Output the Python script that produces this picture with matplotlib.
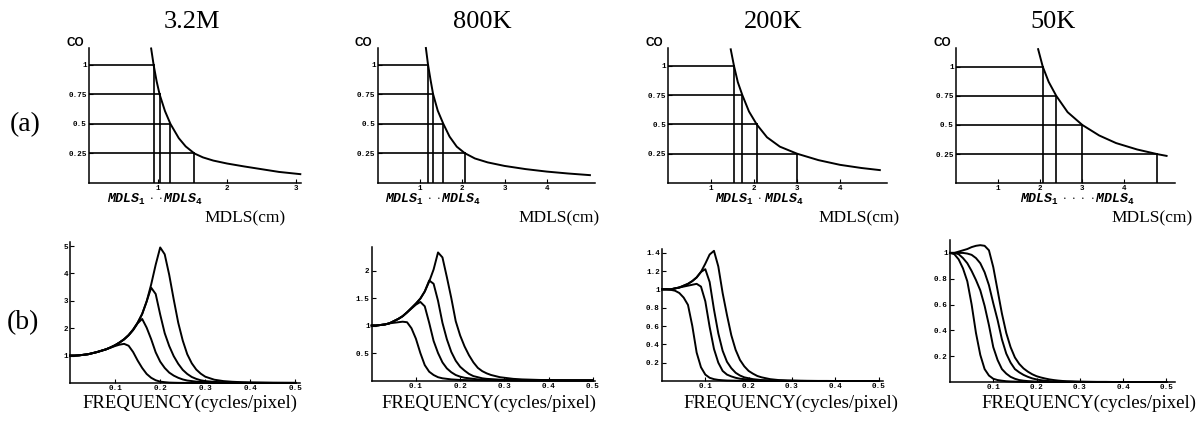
import matplotlib
matplotlib.use("Agg")
import matplotlib.pyplot as plt

plt.rcParams['font.family'] = 'Liberation Mono'
plt.rcParams['mathtext.fontset'] = 'custom'
plt.rcParams['mathtext.it'] = 'Liberation Mono:bold:italic'
plt.rcParams['mathtext.rm'] = 'Liberation Mono:bold'
plt.rcParams['mathtext.bf'] = 'Liberation Mono:bold'

# ---------------- data ----------------
TITLES = ['3.2M', '800K', '200K', '50K']
CO_LEVELS = [1.0, 0.75, 0.5, 0.25]

# (a) CO vs MDLS curves
MDLS_X_32M = [0.90, 0.936, 0.98, 1.023, 1.10, 1.18, 1.30, 1.40, 1.527, 1.65, 1.80, 2.0, 2.25, 2.5, 2.75, 3.06]
CO_Y_32M = [1.14, 1.0, 0.86, 0.75, 0.61, 0.50, 0.38, 0.31, 0.25, 0.217, 0.19, 0.165, 0.14, 0.117, 0.094, 0.075]
MDLS_X_800K = [1.14, 1.19, 1.25, 1.31, 1.42, 1.55, 1.70, 1.87, 2.06, 2.3, 2.6, 3.0, 3.5, 4.0, 4.5, 5.02]
CO_Y_800K = [1.14, 1.0, 0.87, 0.75, 0.61, 0.50, 0.39, 0.305, 0.25, 0.205, 0.172, 0.142, 0.115, 0.094, 0.078, 0.064]
MDLS_X_200K = [1.455, 1.53, 1.62, 1.725, 1.88, 2.06, 2.3, 2.6, 3.0, 3.5, 4.0, 4.5, 4.93]
CO_Y_200K = [1.14, 1.0, 0.86, 0.75, 0.61, 0.50, 0.39, 0.31, 0.25, 0.195, 0.155, 0.128, 0.11]
MDLS_X_50K = [1.95, 2.06, 2.2, 2.38, 2.65, 3.0, 3.4, 3.8, 4.3, 4.78, 5.0]
CO_Y_50K = [1.15, 1.0, 0.87, 0.75, 0.61, 0.50, 0.41, 0.345, 0.29, 0.25, 0.235]

# MDLS_1 .. MDLS_4 (where CO = 1, 0.75, 0.5, 0.25)
MDLS_32M = [0.936, 1.023, 1.18, 1.527]
MDLS_800K = [1.19, 1.31, 1.55, 2.06]
MDLS_200K = [1.53, 1.725, 2.06, 3.0]
MDLS_50K = [2.06, 2.38, 3.0, 4.78]

A_XTICKS = [[1, 2, 3], [1, 2, 3, 4], [1, 2, 3, 4], [1, 2, 3, 4]]
A_YTICKS = [0.25, 0.5, 0.75, 1.0]
A_YTICKLABELS = ['0.25', '0.5', '0.75', '1']

# (b) frequency responses
FREQ = [0.00, 0.01, 0.02, 0.03, 0.04, 0.05, 0.06, 0.07, 0.08, 0.09,
        0.10, 0.11, 0.12, 0.13, 0.14, 0.15, 0.16, 0.17, 0.18, 0.19,
        0.20, 0.21, 0.22, 0.23, 0.24, 0.25, 0.26, 0.27, 0.28, 0.29,
        0.30, 0.32, 0.34, 0.36, 0.38, 0.40, 0.45, 0.50]

R32M_1 = [1.00, 1.00, 1.01, 1.03, 1.05, 1.09, 1.13, 1.18, 1.23, 1.29,
          1.35, 1.40, 1.43, 1.36, 1.13, 0.82, 0.55, 0.33, 0.19, 0.10,
          0.05, 0.03, 0.015, 0.01, 0.006, 0.004, 0.003, 0.002, 0.002, 0.001,
          0.001, 0, 0, 0, 0, 0, 0, 0]
R32M_2 = [1.00, 1.00, 1.01, 1.03, 1.05, 1.09, 1.13, 1.18, 1.23, 1.30,
          1.38, 1.48, 1.59, 1.74, 1.93, 2.18, 2.34, 2.02, 1.60, 1.12,
          0.78, 0.55, 0.38, 0.27, 0.19, 0.13, 0.09, 0.07, 0.05, 0.04,
          0.03, 0.02, 0.012, 0.008, 0.005, 0.004, 0.002, 0.001]
R32M_3 = [1.00, 1.00, 1.01, 1.03, 1.05, 1.09, 1.13, 1.18, 1.23, 1.30,
          1.38, 1.48, 1.60, 1.75, 1.95, 2.20, 2.52, 2.98, 3.48, 3.25,
          2.50, 1.82, 1.35, 0.98, 0.70, 0.48, 0.33, 0.22, 0.15, 0.10,
          0.07, 0.04, 0.025, 0.015, 0.01, 0.008, 0.004, 0.002]
R32M_4 = [1.00, 1.00, 1.01, 1.03, 1.05, 1.09, 1.13, 1.18, 1.23, 1.30,
          1.38, 1.48, 1.60, 1.75, 1.95, 2.20, 2.52, 2.98, 3.60, 4.32,
          4.95, 4.70, 3.95, 3.05, 2.20, 1.55, 1.05, 0.72, 0.49, 0.34,
          0.23, 0.12, 0.07, 0.045, 0.03, 0.02, 0.01, 0.008]

R800K_1 = [1.00, 1.00, 1.01, 1.02, 1.04, 1.05, 1.06, 1.07, 1.06, 0.95,
           0.76, 0.50, 0.28, 0.16, 0.10, 0.06, 0.04, 0.03, 0.02, 0.015,
           0.01, 0.008, 0.006, 0.005, 0.004, 0.003, 0.002, 0.002, 0.001, 0.001,
           0.001, 0, 0, 0, 0, 0, 0, 0]
R800K_2 = [1.00, 1.00, 1.01, 1.02, 1.04, 1.08, 1.12, 1.17, 1.24, 1.31,
           1.38, 1.43, 1.35, 1.05, 0.72, 0.50, 0.33, 0.22, 0.15, 0.10,
           0.07, 0.05, 0.04, 0.03, 0.02, 0.015, 0.012, 0.01, 0.008, 0.006,
           0.005, 0.003, 0.002, 0.001, 0.001, 0, 0, 0]
R800K_3 = [1.00, 1.00, 1.01, 1.02, 1.04, 1.08, 1.12, 1.17, 1.24, 1.32,
           1.40, 1.49, 1.62, 1.82, 1.76, 1.45, 1.05, 0.75, 0.52, 0.36,
           0.25, 0.18, 0.12, 0.08, 0.06, 0.04, 0.03, 0.025, 0.02, 0.015,
           0.01, 0.007, 0.005, 0.003, 0.002, 0.002, 0.001, 0]
R800K_4 = [1.00, 1.00, 1.01, 1.02, 1.04, 1.08, 1.12, 1.17, 1.24, 1.32,
           1.40, 1.49, 1.62, 1.80, 2.02, 2.33, 2.24, 1.88, 1.50, 1.08,
           0.82, 0.62, 0.46, 0.33, 0.23, 0.17, 0.13, 0.10, 0.08, 0.06,
           0.05, 0.03, 0.02, 0.015, 0.01, 0.008, 0.005, 0.004]

R200K_1 = [1.00, 1.00, 0.995, 0.985, 0.96, 0.91, 0.83, 0.60, 0.31, 0.15,
           0.07, 0.035, 0.02, 0.012, 0.008, 0.005, 0.004, 0.003, 0.002, 0.002,
           0.001, 0, 0, 0, 0, 0, 0, 0, 0, 0,
           0, 0, 0, 0, 0, 0, 0, 0]
R200K_2 = [1.00, 1.00, 1.00, 1.01, 1.02, 1.03, 1.04, 1.05, 1.06, 1.03,
           0.87, 0.59, 0.35, 0.20, 0.11, 0.07, 0.05, 0.035, 0.025, 0.02,
           0.015, 0.01, 0.008, 0.006, 0.005, 0.004, 0.003, 0.002, 0.002, 0.001,
           0.001, 0, 0, 0, 0, 0, 0, 0]
R200K_3 = [1.00, 1.00, 1.00, 1.01, 1.02, 1.04, 1.06, 1.09, 1.13, 1.19,
           1.22, 1.08, 0.78, 0.52, 0.33, 0.21, 0.14, 0.09, 0.06, 0.04,
           0.03, 0.02, 0.015, 0.01, 0.008, 0.006, 0.005, 0.004, 0.003, 0.002,
           0.002, 0.001, 0, 0, 0, 0, 0, 0]
R200K_4 = [1.00, 1.00, 1.00, 1.01, 1.02, 1.04, 1.06, 1.09, 1.13, 1.19,
           1.28, 1.38, 1.42, 1.25, 0.96, 0.72, 0.50, 0.34, 0.23, 0.16,
           0.11, 0.08, 0.055, 0.04, 0.03, 0.02, 0.015, 0.01, 0.008, 0.006,
           0.005, 0.003, 0.002, 0.001, 0.001, 0, 0, 0]

R50K_1 = [1.00, 0.99, 0.95, 0.88, 0.78, 0.60, 0.38, 0.21, 0.10, 0.05,
          0.025, 0.015, 0.01, 0.006, 0.004, 0.003, 0.002, 0.001, 0, 0,
          0, 0, 0, 0, 0, 0, 0, 0, 0, 0,
          0, 0, 0, 0, 0, 0, 0, 0]
R50K_2 = [1.00, 1.00, 0.99, 0.96, 0.92, 0.86, 0.79, 0.71, 0.59, 0.44,
          0.27, 0.17, 0.10, 0.065, 0.04, 0.025, 0.015, 0.01, 0.007, 0.005,
          0.003, 0.002, 0.002, 0.001, 0, 0, 0, 0, 0, 0,
          0, 0, 0, 0, 0, 0, 0, 0]
R50K_3 = [1.00, 1.00, 1.00, 1.00, 0.995, 0.985, 0.96, 0.92, 0.85, 0.75,
          0.61, 0.48, 0.33, 0.22, 0.15, 0.10, 0.075, 0.055, 0.04, 0.028,
          0.02, 0.014, 0.01, 0.007, 0.005, 0.004, 0.003, 0.002, 0.002, 0.001,
          0.001, 0, 0, 0, 0, 0, 0, 0]
R50K_4 = [1.00, 1.00, 1.01, 1.02, 1.03, 1.045, 1.055, 1.06, 1.055, 1.02,
          0.89, 0.71, 0.53, 0.38, 0.27, 0.19, 0.14, 0.105, 0.08, 0.06,
          0.045, 0.035, 0.027, 0.02, 0.015, 0.011, 0.008, 0.006, 0.005, 0.004,
          0.003, 0.002, 0.001, 0.001, 0, 0, 0, 0]

B_XTICKS = [0.1, 0.2, 0.3, 0.4, 0.5]
B_YTICKS = [[1, 2, 3, 4, 5], [0.5, 1, 1.5, 2],
            [0.2, 0.4, 0.6, 0.8, 1, 1.2, 1.4], [0.2, 0.4, 0.6, 0.8, 1]]
B_YTICKLABELS = [['1', '2', '3', '4', '5'], ['0.5', '1', '1.5', '2'],
                 ['0.2', '0.4', '0.6', '0.8', '1', '1.2', '1.4'],
                 ['0.2', '0.4', '0.6', '0.8', '1']]

MDLS_LABELS = [r'$MDLS_1\ \cdot\ \cdot MDLS_4$', r'$MDLS_1\ \cdot\ \cdot MDLS_4$',
               r'$MDLS_1\ \cdot\ MDLS_4$', r'$MDLS_1\ \cdot\ \cdot\ \cdot\ \cdot MDLS_4$']

A_CURVES = [(MDLS_X_32M, CO_Y_32M), (MDLS_X_800K, CO_Y_800K),
            (MDLS_X_200K, CO_Y_200K), (MDLS_X_50K, CO_Y_50K)]
A_MDLS = [MDLS_32M, MDLS_800K, MDLS_200K, MDLS_50K]
B_CURVES = [[R32M_1, R32M_2, R32M_3, R32M_4], [R800K_1, R800K_2, R800K_3, R800K_4],
            [R200K_1, R200K_2, R200K_3, R200K_4], [R50K_1, R50K_2, R50K_3, R50K_4]]

# ---------------- layout (pixels) ----------------
W, H = 1198, 423
fig = plt.figure(figsize=(W / 100, H / 100), dpi=100)

# left, top, right, bottom, xmax, ymax
A_BOX = [(89, 48, 301, 183, 3.07, 1.144), (377.7, 48, 595, 182.7, 5.14, 1.14),
         (668.3, 48.5, 886.7, 183, 5.09, 1.147), (956, 48, 1175, 183.3, 5.2, 1.16)]
B_BOX = [(70, 241.7, 300, 383, 0.51, 5.16), (371.7, 247.5, 595, 380.5, 0.505, 2.42),
         (662, 249, 883.3, 381, 0.511, 1.44), (950, 240, 1175, 382, 0.52, 1.1)]
TITLE_X = [191.7, 482, 773, 1053.5]
MDLS_SUB_X = [106.7, 385, 715, 1019.7]
MDLS_CM_X = [204, 518, 818, 1111]
FREQ_X = [82.7, 381.7, 683.3, 981.3]


def ax_at(l, t, r, b):
    return fig.add_axes([l / W, 1 - b / H, (r - l) / W, (b - t) / H])


def style(ax):
    for s in ['top', 'right']:
        ax.spines[s].set_visible(False)
    for s in ['left', 'bottom']:
        ax.spines[s].set_linewidth(1.1)
    ax.tick_params(direction='in', length=3, width=0.8, labelsize=5.5, pad=1.5)
    for lab in ax.get_xticklabels() + ax.get_yticklabels():
        lab.set_fontweight('bold')


def ftext(x, y, s, **kw):
    fig.text(x / W, 1 - y / H, s, **kw)


for i in range(4):
    l, t, r, b, xm, ym = A_BOX[i]
    ax = ax_at(l, t, r, b)
    cx, cy = A_CURVES[i]
    ax.plot(cx, cy, color='black', lw=1.4, clip_on=False)
    for co, m in zip(CO_LEVELS, A_MDLS[i]):
        ax.plot([0, m], [co, co], color='black', lw=1.2)
        ax.plot([m, m], [0, co], color='black', lw=1.2)
    ax.set_xlim(0, xm)
    ax.set_ylim(0, ym)
    ax.set_xticks(A_XTICKS[i])
    ax.set_xticklabels([str(v) for v in A_XTICKS[i]])
    ax.set_yticks(A_YTICKS)
    ax.set_yticklabels(A_YTICKLABELS)
    style(ax)
    ftext(l - 14, 43.5, 'CO', ha='center', va='center', family='Liberation Sans',
          weight='bold', size=8.5)
    ftext(TITLE_X[i], 22, TITLES[i], ha='center', va='center',
          family='Liberation Serif', size=19)
    ftext(MDLS_SUB_X[i], 203, MDLS_LABELS[i], ha='left', va='baseline', size=9.5)
    ftext(MDLS_CM_X[i], 218, 'MDLS(cm)', ha='left', va='center',
          family='Liberation Serif', size=12.5)

for i in range(4):
    l, t, r, b, xm, ym = B_BOX[i]
    ax = ax_at(l, t, r, b)
    for curve in B_CURVES[i]:
        ax.plot(FREQ, curve, color='black', lw=1.4, clip_on=False)
    ax.set_xlim(0, xm)
    ax.set_ylim(0, ym)
    ax.set_xticks(B_XTICKS)
    ax.set_xticklabels([str(v) for v in B_XTICKS])
    ax.set_yticks(B_YTICKS[i])
    ax.set_yticklabels(B_YTICKLABELS[i])
    style(ax)
    ftext(FREQ_X[i], 403, 'FREQUENCY(cycles/pixel)', ha='left', va='center',
          family='Liberation Serif', size=13.5)

ftext(25, 125, '(a)', ha='center', va='center', family='Liberation Serif', size=20)
ftext(23, 323, '(b)', ha='center', va='center', family='Liberation Serif', size=20)

fig.savefig('out.png', dpi=100)
